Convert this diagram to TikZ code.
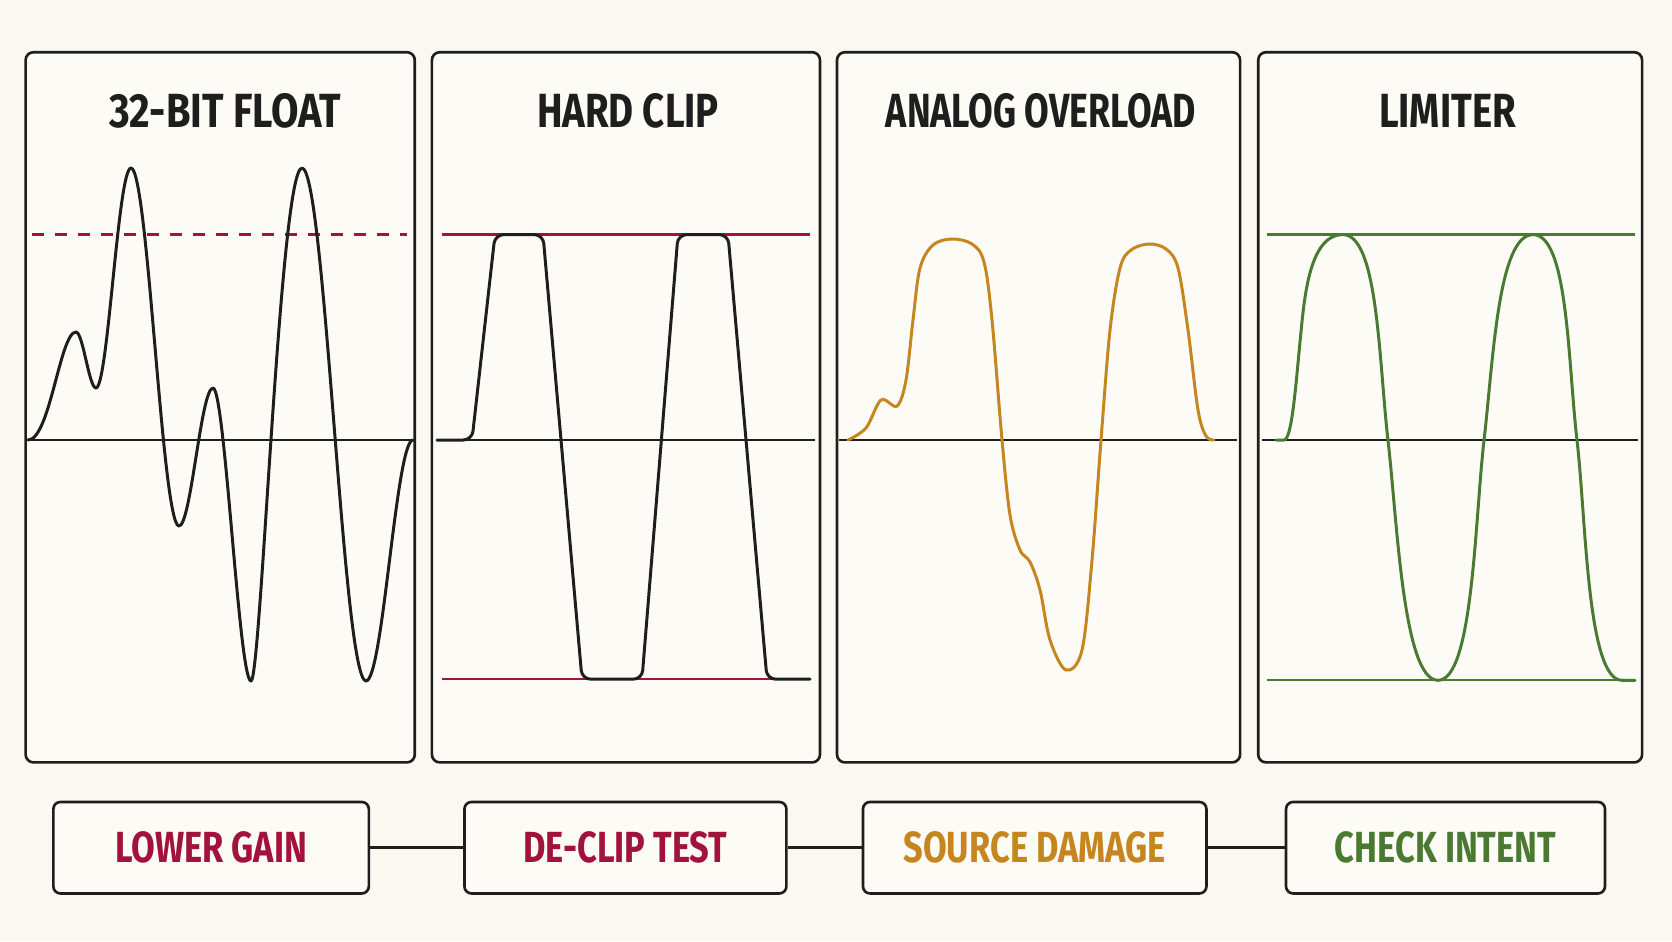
\documentclass[tikz,border=0pt]{standalone}
\usepackage{fontspec}
\usepackage{tikz}
\usetikzlibrary{positioning}

\newfontfamily\titlefont[FakeStretch=0.80]{Fira Sans}
\newfontfamily\tagfont[FakeStretch=0.79]{Fira Sans}

\definecolor{paper}{HTML}{FAF8F1}
\definecolor{card}{HTML}{FCFBF6}
\definecolor{ink}{HTML}{1E1E1E}
\definecolor{crimson}{HTML}{A3123D}
\definecolor{amber}{HTML}{C5861F}
\definecolor{leaf}{HTML}{4A7A32}

\tikzset{
    panelframe/.style={draw=ink, line width=1.5pt, rounded corners=4.5pt, fill=card},
    zeroline/.style={draw=ink, line width=1.1pt},
    wave/.style={line width=1.7pt, line join=round, line cap=round},
    ceiling/.style={line width=1.3pt},
    paneltitle/.style={anchor=base, text=ink, inner sep=0pt,
        font=\titlefont\bfseries\fontsize{27.3}{30}\selectfont},
    actionbox/.style={draw=ink, line width=1.5pt, rounded corners=4pt, fill=card,
        minimum height=1.83cm, inner sep=0pt,
        font=\tagfont\bfseries\fontsize{24.8}{28}\selectfont},
    link/.style={draw=ink, line width=1.5pt},
}

\begin{document}
\begin{tikzpicture}[x=0.02cm, y=-0.02cm]
    \fill[paper] (0,0) rectangle (1672,941);
    \useasboundingbox (0,0) rectangle (1672,941);

    % panels
    \draw[panelframe] (25.6,52.2) rectangle (414.8,762.4);
    \draw[panelframe] (431.9,52.2) rectangle (820,762.4);
    \draw[panelframe] (837,52.2) rectangle (1240.1,762.4);
    \draw[panelframe] (1258.2,52.2) rectangle (1642.1,762.4);

    \node[paneltitle] (floatT) at (225.5,127) {\addfontfeatures{FakeStretch=0.83}32-BIT FLOAT};
    \node[paneltitle] (clipT) at (628,127) {HARD CLIP};
    \node[paneltitle] (analogT) at (1041,127) {\addfontfeatures{FakeStretch=0.745}ANALOG OVERLOAD};
    \node[paneltitle] (limitT) at (1447.5,127) {LIMITER};

    % 32-bit float
    \draw[zeroline] (25.6,440.4) -- (414.8,440.4);
    \draw[crimson, ceiling, dash pattern=on 6.8pt off 6.3pt] (32,234.6) -- (407,234.6);
    \draw[wave, ink] (28,440)
        .. controls +(22,0) and +(-16,0) .. (76,332)
        .. controls +(7,0) and +(-7,0) .. (96,388)
        .. controls +(12,0) and +(-13,0) .. (131,168)
        .. controls +(17,0) and +(-17,0) .. (179,526)
        .. controls +(12,0) and +(-12,0) .. (213,388)
        .. controls +(12,0) and +(-12,0) .. (251,681)
        .. controls +(10,0) and +(-22,0) .. (302,168)
        .. controls +(23,0) and +(-23,0) .. (366,681)
        .. controls +(17,0) and +(-17,0) .. (413,440);

    % hard clip
    \draw[zeroline] (437,440.4) -- (815,440.4);
    \draw[crimson, ceiling] (442,234.6) -- (810,234.6);
    \draw[crimson, ceiling] (442,679.2) -- (810,679.2);
    \draw[wave, ink, rounded corners=5pt] (437,440) -- (472,440) -- (495,234.6)
        -- (543,234.6) -- (582,679.2) -- (642,679.2) -- (678,234.6)
        -- (728,234.6) -- (767,679.2) -- (810,679.2);

    % analog overload
    \draw[zeroline] (839,440.4) -- (1237,440.4);
    \draw[wave, amber] plot[smooth, tension=0.55] coordinates {
        (848,440) (866,428) (881,400) (897,406) (906,380) (913,320) (920,268)
        (933,245) (952,239) (972,244) (984,262) (992,320) (1002,440)
        (1010,515) (1020,550) (1030,562) (1040,590) (1050,640) (1066,670)
        (1082,650) (1092,560) (1101,440) (1110,330) (1120,268) (1131,250)
        (1149,244) (1166,249) (1178,268) (1188,330) (1198,410) (1206,436)
        (1214,440)};

    % limiter
    \draw[zeroline] (1262,440.4) -- (1638,440.4);
    \draw[leaf, ceiling] (1267,234.6) -- (1635,234.6);
    \draw[leaf, ceiling] (1267,680.3) -- (1635,680.3);
    \draw[wave, leaf] (1276,440) -- (1284,440)
        .. controls +(8,0) and +(-4,40) .. (1300,342)
        .. controls +(4,-40) and +(-35,0) .. (1343,234.6)
        .. controls +(35,0) and +(-9.2,-79.5) .. (1388,440.4)
        .. controls +(9.2,79.5) and +(-35,0) .. (1438,680.3)
        .. controls +(35,0) and +(-9.2,79.5) .. (1484,440.4)
        .. controls +(9.2,-79.5) and +(-35,0) .. (1533,234.6)
        .. controls +(35,0) and +(-9.2,-79.5) .. (1577,440.4)
        .. controls +(9.2,79.5) and +(-35,0) .. (1622,680.3)
        -- (1635,680.3);

    % actions
    \node[actionbox, minimum width=6.31cm, text=crimson] (lower) at (211.1,847.7) {LOWER GAIN};
    \node[actionbox, minimum width=6.44cm, text=crimson, right=1.86cm of lower] (declip) {DE-CLIP TEST};
    \node[actionbox, minimum width=6.87cm, text=amber, right=1.48cm of declip] (damage) {SOURCE DAMAGE};
    \node[actionbox, minimum width=6.38cm, text=leaf, right=1.54cm of damage] (intent) {CHECK INTENT};
    \draw[link] (lower) -- (declip);
    \draw[link] (declip) -- (damage);
    \draw[link] (damage) -- (intent);
\end{tikzpicture}
\end{document}
